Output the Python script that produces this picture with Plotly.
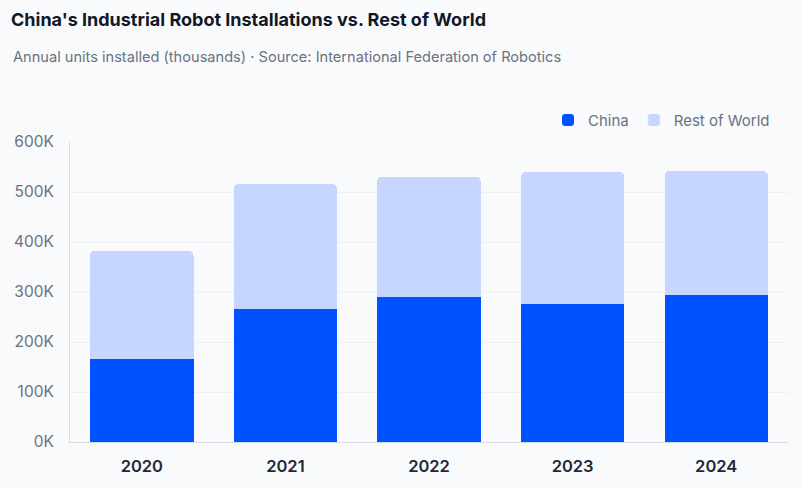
import plotly.graph_objects as go

years = ["2020", "2021", "2022", "2023", "2024"]
china = [166000, 267000, 290000, 276000, 295000]
rest_of_world = [217000, 249000, 241000, 264000, 247000]
y_tickvals = [0, 100000, 200000, 300000, 400000, 500000, 600000]
y_ticktext = ["0K", "100K", "200K", "300K", "400K", "500K", "600K"]

fig = go.Figure()
fig.add_trace(go.Bar(x=years, y=china, name="China", marker=dict(color="#0052FF", line=dict(width=0))))
fig.add_trace(go.Bar(x=years, y=rest_of_world, name="Rest of World", marker=dict(color="#C6D6FF", line=dict(width=0))))

fig.update_layout(
    width=802, height=488,
    barmode="stack", bargap=0.28, barcornerradius=5,
    paper_bgcolor="#F9FAFC", plot_bgcolor="#F9FAFC",
    margin=dict(l=70, r=14, t=142, b=42),
    font=dict(family="Inter", color="#6B7280"),
    title=dict(text="<b>China's Industrial Robot Installations vs. Rest of World</b>",
               x=11/802, xanchor="left", xref="container", y=1-20/488, yanchor="middle", yref="container",
               font=dict(size=18, color="#111827", family="Inter")),
    annotations=[dict(text="Annual units installed (thousands) · Source: International Federation of Robotics",
                      xref="paper", yref="paper", x=-59/718, y=1+(142-56)/304, xanchor="left", yanchor="middle",
                      showarrow=False, font=dict(size=14.6, color="#6B7280", family="Inter"))],
    legend=dict(orientation="h", x=1-13/718, xanchor="right", y=1+22/304, yanchor="middle",
                font=dict(size=15, color="#6B7280"), bgcolor="rgba(0,0,0,0)", traceorder="normal",
                itemwidth=30),
    showlegend=True,
)
fig.update_xaxes(showgrid=False, showline=True, linecolor="#D9DCE1", linewidth=1,
                 tickfont=dict(size=16.5, color="#1F2937", family="Inter", weight=600),
                 ticks="", ticklabelstandoff=9)
fig.update_yaxes(range=[0, 600000], tickvals=y_tickvals, ticktext=y_ticktext,
                 showgrid=True, gridcolor="#EEF0F4", gridwidth=1, zeroline=False,
                 showline=True, linecolor="#D9DCE1", linewidth=1,
                 tickfont=dict(size=15.5, color="#6B7280"), ticks="", ticklabelstandoff=12)

fig.write_html("out.html", config={"displayModeBar": False},
               post_script="document.body.style.margin='0';document.body.style.overflow='hidden';document.body.style.background='#F9FAFC';")
